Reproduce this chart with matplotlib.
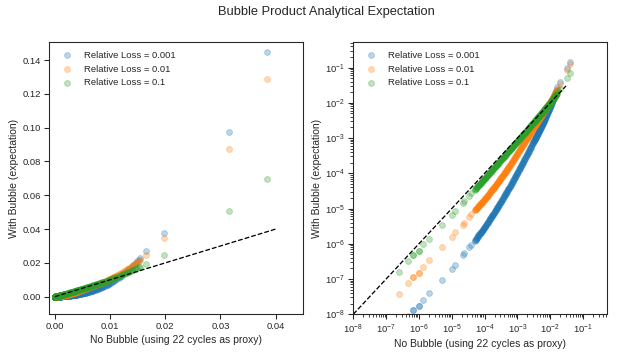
import numpy as np
import matplotlib
matplotlib.use("Agg")
import matplotlib.pyplot as plt
from matplotlib.ticker import LogLocator, NullFormatter, LogFormatterSciNotation

# ---------------- data ----------------
no_bubble = [
    2.40e-7, 4.79e-7, 6.76e-7, 6.76e-7, 9.77e-7, 9.77e-7, 1.35e-6, 2.09e-6, 4.90e-6,
    1.00e-5, 1.29e-5, 2.14e-5, 2.40e-5, 3.31e-5, 3.98e-5,
    5.01e-5, 5.31e-5, 5.62e-5, 5.96e-5, 6.31e-5, 6.69e-5, 7.08e-5, 7.51e-5, 7.94e-5,
    8.42e-5, 8.91e-5, 9.44e-5, 1.00e-4, 1.06e-4, 1.12e-4, 1.19e-4, 1.26e-4, 1.33e-4,
    1.41e-4, 1.50e-4, 1.58e-4, 1.68e-4, 1.78e-4, 1.89e-4, 2.00e-4, 2.12e-4, 2.24e-4,
    2.37e-4, 2.51e-4, 2.66e-4, 2.82e-4, 2.99e-4, 3.16e-4, 3.35e-4, 3.55e-4, 3.76e-4,
    3.98e-4, 4.22e-4, 4.47e-4, 4.74e-4, 5.01e-4, 5.31e-4, 5.62e-4, 5.96e-4, 6.31e-4,
    6.69e-4, 7.08e-4, 7.51e-4, 7.94e-4, 8.42e-4, 8.91e-4, 9.44e-4, 1.00e-3, 1.06e-3,
    1.12e-3, 1.19e-3, 1.26e-3, 1.33e-3, 1.41e-3, 1.50e-3, 1.58e-3, 1.68e-3, 1.78e-3,
    1.89e-3, 2.00e-3, 2.12e-3, 2.24e-3, 2.37e-3, 2.51e-3, 2.66e-3, 2.82e-3, 2.99e-3,
    3.16e-3, 3.27e-3, 3.39e-3, 3.51e-3, 3.63e-3, 3.76e-3, 3.89e-3, 4.03e-3, 4.17e-3,
    4.32e-3, 4.47e-3, 4.63e-3, 4.79e-3, 4.96e-3, 5.13e-3, 5.31e-3, 5.50e-3, 5.69e-3,
    5.89e-3, 6.10e-3, 6.31e-3, 6.53e-3, 6.76e-3, 7.00e-3, 7.24e-3, 7.50e-3, 7.76e-3,
    8.04e-3, 8.32e-3, 8.61e-3, 8.91e-3, 9.23e-3, 9.55e-3, 9.89e-3, 1.023e-2, 1.06e-2,
    1.096e-2, 1.135e-2, 1.175e-2, 1.217e-2, 1.259e-2, 1.304e-2, 1.349e-2, 1.397e-2,
    1.445e-2, 1.497e-2, 1.549e-2,
    0.0165, 0.0197, 0.0315, 0.0384,
    5.16e-5, 5.47e-5, 5.79e-5, 6.14e-5, 6.50e-5, 6.89e-5, 7.30e-5, 7.73e-5, 8.18e-5,
    8.67e-5, 9.18e-5, 9.72e-5, 1.03e-4, 1.09e-4, 1.155e-4, 1.225e-4, 1.295e-4, 1.37e-4,
    1.455e-4, 1.54e-4, 1.63e-4, 1.73e-4, 1.835e-4, 1.945e-4, 2.06e-4, 2.18e-4, 2.305e-4,
    2.44e-4, 2.585e-4, 2.74e-4, 2.905e-4, 3.075e-4, 3.255e-4, 3.45e-4, 3.655e-4, 3.87e-4,
    4.10e-4, 4.345e-4, 4.605e-4, 4.875e-4, 5.16e-4, 5.465e-4, 5.79e-4, 6.135e-4, 6.50e-4,
    6.885e-4, 7.295e-4, 7.725e-4, 8.18e-4, 8.665e-4, 9.175e-4, 9.72e-4,
    1.03e-3, 1.09e-3, 1.155e-3, 1.225e-3, 1.295e-3, 1.37e-3, 1.455e-3, 1.54e-3, 1.63e-3,
    1.73e-3, 1.835e-3, 1.945e-3, 2.06e-3, 2.18e-3, 2.305e-3, 2.44e-3, 2.585e-3, 2.74e-3,
    2.905e-3, 3.075e-3, 3.215e-3, 3.33e-3, 3.45e-3, 3.57e-3, 3.695e-3, 3.825e-3, 3.96e-3,
    4.10e-3, 4.245e-3, 4.395e-3, 4.55e-3, 4.71e-3, 4.875e-3, 5.045e-3, 5.22e-3, 5.405e-3,
    5.595e-3, 5.79e-3, 5.995e-3, 6.205e-3, 6.42e-3, 6.645e-3, 6.88e-3, 7.12e-3, 7.37e-3,
    7.63e-3, 7.90e-3, 8.18e-3, 8.465e-3, 8.76e-3, 9.07e-3, 9.39e-3, 9.72e-3, 1.006e-2,
    1.0415e-2, 1.078e-2, 1.1155e-2, 1.155e-2, 1.196e-2, 1.238e-2, 1.2815e-2, 1.3265e-2,
    1.373e-2, 1.421e-2, 1.471e-2, 1.523e-2,
]

loss_0001 = [
    4.57e-9, 9.12e-9, 1.32e-8, 1.32e-8, 1.74e-8, 1.74e-8, 2.57e-8, 3.98e-8, 9.55e-8,
    1.91e-7, 2.51e-7, 4.79e-7, 5.37e-7, 7.94e-7, 9.33e-7,
    1.23e-6, 1.32e-6, 1.41e-6, 1.54e-6, 1.66e-6, 1.79e-6, 1.91e-6, 2.05e-6, 2.19e-6,
    2.37e-6, 2.54e-6, 2.75e-6, 2.95e-6, 3.21e-6, 3.47e-6, 3.77e-6, 4.07e-6, 4.49e-6,
    4.90e-6, 5.33e-6, 5.75e-6, 6.26e-6, 6.76e-6, 7.35e-6, 7.94e-6, 8.75e-6, 9.55e-6,
    1.04e-5, 1.12e-5, 1.24e-5, 1.35e-5, 1.47e-5, 1.58e-5, 1.75e-5, 1.91e-5, 2.10e-5,
    2.29e-5, 2.52e-5, 2.75e-5, 3.03e-5, 3.31e-5, 3.63e-5, 3.94e-5, 4.37e-5, 4.79e-5,
    5.27e-5, 5.75e-5, 6.42e-5, 7.08e-5, 7.80e-5, 8.51e-5, 9.51e-5, 1.05e-4, 1.17e-4,
    1.29e-4, 1.43e-4, 1.57e-4, 1.74e-4, 1.91e-4, 2.13e-4, 2.34e-4, 2.61e-4, 2.88e-4,
    3.20e-4, 3.51e-4, 3.92e-4, 4.32e-4, 4.82e-4, 5.31e-4, 5.96e-4, 6.61e-4, 7.37e-4,
    8.13e-4, 8.73e-4, 9.33e-4, 9.97e-4, 1.06e-3, 1.13e-3, 1.20e-3, 1.29e-3, 1.38e-3,
    1.48e-3, 1.57e-3, 1.68e-3, 1.78e-3, 1.91e-3, 2.04e-3, 2.17e-3, 2.29e-3, 2.46e-3,
    2.63e-3, 2.81e-3, 2.99e-3, 3.19e-3, 3.39e-3, 3.67e-3, 3.94e-3, 4.26e-3, 4.57e-3,
    4.97e-3, 5.37e-3, 5.77e-3, 6.17e-3, 6.67e-3, 7.16e-3, 7.74e-3, 8.32e-3, 9.11e-3,
    9.89e-3, 1.08e-2, 1.175e-2, 1.28e-2, 1.38e-2, 1.50e-2, 1.62e-2, 1.78e-2,
    1.93e-2, 2.10e-2, 2.26e-2,
    0.0272, 0.0379, 0.0973, 0.1446,
    1.275e-6, 1.365e-6, 1.475e-6, 1.60e-6, 1.725e-6, 1.85e-6, 1.98e-6, 2.12e-6, 2.28e-6,
    2.455e-6, 2.645e-6, 2.85e-6, 3.08e-6, 3.34e-6, 3.62e-6, 3.92e-6, 4.28e-6, 4.695e-6,
    5.115e-6, 5.54e-6, 6.005e-6, 6.51e-6, 7.055e-6, 7.645e-6, 8.345e-6, 9.15e-6, 9.975e-6,
    1.08e-5, 1.18e-5, 1.295e-5, 1.41e-5, 1.525e-5, 1.665e-5, 1.83e-5, 2.005e-5, 2.195e-5,
    2.405e-5, 2.635e-5, 2.89e-5, 3.17e-5, 3.47e-5, 3.785e-5, 4.155e-5, 4.58e-5, 5.03e-5,
    5.51e-5, 6.085e-5, 6.75e-5, 7.44e-5, 8.155e-5, 9.01e-5, 1.0005e-4,
    1.11e-4, 1.23e-4, 1.36e-4, 1.50e-4, 1.655e-4, 1.825e-4, 2.02e-4, 2.235e-4, 2.475e-4,
    2.745e-4, 3.04e-4, 3.355e-4, 3.715e-4, 4.12e-4, 4.57e-4, 5.065e-4, 5.635e-4, 6.285e-4,
    6.99e-4, 7.75e-4, 8.43e-4, 9.03e-4, 9.65e-4, 1.0285e-3, 1.095e-3, 1.165e-3, 1.245e-3,
    1.335e-3, 1.43e-3, 1.525e-3, 1.625e-3, 1.73e-3, 1.845e-3, 1.975e-3, 2.105e-3, 2.23e-3,
    2.375e-3, 2.545e-3, 2.72e-3, 2.90e-3, 3.09e-3, 3.29e-3, 3.53e-3, 3.805e-3, 4.10e-3,
    4.415e-3, 4.77e-3, 5.17e-3, 5.57e-3, 5.97e-3, 6.42e-3, 6.915e-3, 7.45e-3, 8.03e-3,
    8.715e-3, 9.50e-3, 1.0345e-2, 1.1275e-2, 1.2275e-2, 1.33e-2, 1.44e-2, 1.56e-2,
    1.70e-2, 1.855e-2, 2.015e-2, 2.18e-2,
]

loss_001 = [
    3.72e-8, 7.59e-8, 1.15e-7, 1.15e-7, 1.51e-7, 1.51e-7, 2.24e-7, 3.47e-7, 8.32e-7,
    1.58e-6, 2.09e-6, 3.47e-6, 3.89e-6, 5.89e-6, 6.92e-6,
    8.81e-6, 9.41e-6, 1.00e-5, 1.06e-5, 1.12e-5, 1.20e-5, 1.27e-5, 1.35e-5, 1.43e-5,
    1.53e-5, 1.62e-5, 1.72e-5, 1.82e-5, 1.96e-5, 2.09e-5, 2.25e-5, 2.40e-5, 2.58e-5,
    2.75e-5, 2.96e-5, 3.16e-5, 3.40e-5, 3.63e-5, 3.90e-5, 4.17e-5, 4.48e-5, 4.79e-5,
    5.15e-5, 5.50e-5, 5.94e-5, 6.38e-5, 6.90e-5, 7.41e-5, 8.01e-5, 8.61e-5, 9.31e-5,
    1.00e-4, 1.08e-4, 1.16e-4, 1.26e-4, 1.35e-4, 1.47e-4, 1.58e-4, 1.72e-4, 1.86e-4,
    2.03e-4, 2.19e-4, 2.38e-4, 2.57e-4, 2.81e-4, 3.05e-4, 3.34e-4, 3.63e-4, 3.98e-4,
    4.32e-4, 4.73e-4, 5.13e-4, 5.58e-4, 6.03e-4, 6.60e-4, 7.16e-4, 7.84e-4, 8.51e-4,
    9.26e-4, 1.00e-3, 1.10e-3, 1.19e-3, 1.30e-3, 1.41e-3, 1.55e-3, 1.68e-3, 1.84e-3,
    2.00e-3, 2.11e-3, 2.21e-3, 2.33e-3, 2.45e-3, 2.60e-3, 2.75e-3, 2.90e-3, 3.05e-3,
    3.22e-3, 3.39e-3, 3.58e-3, 3.76e-3, 3.97e-3, 4.17e-3, 4.40e-3, 4.62e-3, 4.85e-3,
    5.07e-3, 5.35e-3, 5.62e-3, 5.90e-3, 6.17e-3, 6.47e-3, 6.76e-3, 7.09e-3, 7.41e-3,
    7.77e-3, 8.13e-3, 8.52e-3, 8.91e-3, 9.34e-3, 9.77e-3, 1.03e-2, 1.08e-2, 1.14e-2,
    1.20e-2, 1.28e-2, 1.35e-2, 1.43e-2, 1.51e-2, 1.61e-2, 1.70e-2, 1.82e-2,
    1.93e-2, 2.06e-2, 2.19e-2,
    0.0247, 0.0346, 0.0872, 0.1286,
    9.11e-6, 9.71e-6, 1.03e-5, 1.09e-5, 1.16e-5, 1.235e-5, 1.31e-5, 1.39e-5, 1.48e-5,
    1.575e-5, 1.67e-5, 1.77e-5, 1.89e-5, 2.025e-5, 2.17e-5, 2.325e-5, 2.49e-5, 2.665e-5,
    2.855e-5, 3.06e-5, 3.28e-5, 3.515e-5, 3.765e-5, 4.035e-5, 4.325e-5, 4.635e-5, 4.97e-5,
    5.325e-5, 5.72e-5, 6.16e-5, 6.64e-5, 7.155e-5, 7.71e-5, 8.31e-5, 8.96e-5, 9.655e-5,
    1.04e-4, 1.12e-4, 1.21e-4, 1.305e-4, 1.41e-4, 1.525e-4, 1.65e-4, 1.79e-4, 1.945e-4,
    2.11e-4, 2.285e-4, 2.475e-4, 2.69e-4, 2.93e-4, 3.195e-4, 3.485e-4,
    3.805e-4, 4.15e-4, 4.525e-4, 4.93e-4, 5.355e-4, 5.805e-4, 6.315e-4, 6.88e-4, 7.50e-4,
    8.175e-4, 8.885e-4, 9.63e-4, 1.05e-3, 1.145e-3, 1.245e-3, 1.355e-3, 1.48e-3, 1.615e-3,
    1.76e-3, 1.92e-3, 2.055e-3, 2.16e-3, 2.27e-3, 2.39e-3, 2.525e-3, 2.675e-3, 2.825e-3,
    2.975e-3, 3.135e-3, 3.305e-3, 3.485e-3, 3.67e-3, 3.865e-3, 4.07e-3, 4.285e-3, 4.51e-3,
    4.735e-3, 4.96e-3, 5.21e-3, 5.485e-3, 5.76e-3, 6.035e-3, 6.32e-3, 6.615e-3, 6.925e-3,
    7.25e-3, 7.59e-3, 7.95e-3, 8.325e-3, 8.715e-3, 9.125e-3, 9.555e-3, 1.0035e-2, 1.055e-2,
    1.11e-2, 1.17e-2, 1.24e-2, 1.315e-2, 1.39e-2, 1.47e-2, 1.56e-2, 1.655e-2, 1.76e-2,
    1.875e-2, 1.995e-2, 2.125e-2,
]

loss_01 = [
    1.62e-7, 3.24e-7, 4.79e-7, 4.79e-7, 6.17e-7, 6.17e-7, 9.55e-7, 1.41e-6, 3.47e-6,
    6.76e-6, 8.32e-6, 1.41e-5, 1.62e-5, 2.24e-5, 2.69e-5,
    3.43e-5, 3.65e-5, 3.87e-5, 4.12e-5, 4.37e-5, 4.65e-5, 4.93e-5, 5.25e-5, 5.56e-5,
    5.92e-5, 6.28e-5, 6.68e-5, 7.08e-5, 7.54e-5, 8.00e-5, 8.52e-5, 9.04e-5, 9.62e-5,
    1.02e-4, 1.09e-4, 1.15e-4, 1.23e-4, 1.30e-4, 1.39e-4, 1.47e-4, 1.57e-4, 1.66e-4,
    1.77e-4, 1.88e-4, 2.00e-4, 2.12e-4, 2.26e-4, 2.40e-4, 2.56e-4, 2.71e-4, 2.89e-4,
    3.06e-4, 3.26e-4, 3.46e-4, 3.69e-4, 3.91e-4, 4.17e-4, 4.42e-4, 4.71e-4, 4.99e-4,
    5.32e-4, 5.64e-4, 6.01e-4, 6.37e-4, 6.78e-4, 7.19e-4, 7.66e-4, 8.13e-4, 8.67e-4,
    9.20e-4, 9.80e-4, 1.04e-3, 1.11e-3, 1.18e-3, 1.26e-3, 1.34e-3, 1.43e-3, 1.51e-3,
    1.61e-3, 1.71e-3, 1.83e-3, 1.94e-3, 2.07e-3, 2.20e-3, 2.35e-3, 2.49e-3, 2.66e-3,
    2.82e-3, 2.93e-3, 3.04e-3, 3.16e-3, 3.28e-3, 3.41e-3, 3.54e-3, 3.68e-3, 3.82e-3,
    3.97e-3, 4.12e-3, 4.29e-3, 4.45e-3, 4.63e-3, 4.80e-3, 4.99e-3, 5.18e-3, 5.38e-3,
    5.58e-3, 5.81e-3, 6.03e-3, 6.27e-3, 6.50e-3, 6.76e-3, 7.01e-3, 7.29e-3, 7.57e-3,
    7.87e-3, 8.17e-3, 8.49e-3, 8.81e-3, 9.16e-3, 9.51e-3, 9.91e-3, 1.03e-2, 1.08e-2,
    1.13e-2, 1.18e-2, 1.23e-2, 1.29e-2, 1.35e-2, 1.42e-2, 1.48e-2, 1.55e-2,
    1.62e-2, 1.70e-2, 1.78e-2,
    0.0192, 0.0245, 0.0505, 0.0695,
    3.54e-5, 3.76e-5, 3.995e-5, 4.245e-5, 4.51e-5, 4.79e-5, 5.09e-5, 5.405e-5, 5.74e-5,
    6.10e-5, 6.48e-5, 6.88e-5, 7.31e-5, 7.77e-5, 8.26e-5, 8.78e-5, 9.33e-5, 9.91e-5,
    1.055e-4, 1.12e-4, 1.19e-4, 1.265e-4, 1.345e-4, 1.43e-4, 1.52e-4, 1.615e-4, 1.715e-4,
    1.825e-4, 1.94e-4, 2.06e-4, 2.19e-4, 2.33e-4, 2.48e-4, 2.635e-4, 2.80e-4, 2.975e-4,
    3.16e-4, 3.36e-4, 3.575e-4, 3.80e-4, 4.04e-4, 4.295e-4, 4.565e-4, 4.85e-4, 5.155e-4,
    5.48e-4, 5.825e-4, 6.19e-4, 6.575e-4, 6.985e-4, 7.425e-4, 7.895e-4,
    8.40e-4, 8.935e-4, 9.50e-4, 1.01e-3, 1.075e-3, 1.145e-3, 1.22e-3, 1.30e-3, 1.385e-3,
    1.47e-3, 1.56e-3, 1.66e-3, 1.77e-3, 1.885e-3, 2.005e-3, 2.135e-3, 2.275e-3, 2.42e-3,
    2.575e-3, 2.74e-3, 2.875e-3, 2.985e-3, 3.10e-3, 3.22e-3, 3.345e-3, 3.475e-3, 3.61e-3,
    3.75e-3, 3.895e-3, 4.045e-3, 4.205e-3, 4.37e-3, 4.54e-3, 4.715e-3, 4.895e-3, 5.085e-3,
    5.28e-3, 5.48e-3, 5.695e-3, 5.92e-3, 6.15e-3, 6.385e-3, 6.63e-3, 6.885e-3, 7.15e-3,
    7.43e-3, 7.72e-3, 8.02e-3, 8.33e-3, 8.65e-3, 8.985e-3, 9.335e-3, 9.71e-3, 1.01e-2,
    1.055e-2, 1.105e-2, 1.155e-2, 1.205e-2, 1.26e-2, 1.32e-2, 1.385e-2, 1.45e-2, 1.515e-2,
    1.585e-2, 1.66e-2, 1.74e-2,
]

series_labels = ["Relative Loss = 0.001", "Relative Loss = 0.01", "Relative Loss = 0.1"]
series_values = [loss_0001, loss_001, loss_01]
series_colors = ["#1f77b4", "#ff7f0e", "#2ca02c"]

ref_lin = [0.0, 0.04]
ref_log = [1e-8, 0.03]

title = "Bubble Product Analytical Expectation"
xlabel = "No Bubble (using 22 cycles as proxy)"
ylabel = "With Bubble (expectation)"

for v in series_values:
    if len(v) != len(no_bubble):
        raise SystemExit("length mismatch: %d vs %d" % (len(v), len(no_bubble)))

# ---------------- style ----------------
k = 0.62
dark = "#262626"
plt.rcParams.update({
    "font.family": ["Liberation Sans", "DejaVu Sans"],
    "font.size": 12 * k,
    "axes.labelsize": 12 * k,
    "xtick.labelsize": 11 * k,
    "ytick.labelsize": 11 * k,
    "legend.fontsize": 11 * k,
    "axes.edgecolor": dark,
    "axes.labelcolor": dark,
    "axes.linewidth": 1.25 * k,
    "xtick.color": dark,
    "ytick.color": dark,
    "text.color": dark,
    "xtick.direction": "out",
    "ytick.direction": "out",
    "xtick.major.size": 6 * k,
    "ytick.major.size": 6 * k,
    "xtick.minor.size": 4 * k,
    "ytick.minor.size": 4 * k,
    "xtick.major.width": 1.25 * k,
    "ytick.major.width": 1.25 * k,
    "xtick.minor.width": 1.0 * k,
    "ytick.minor.width": 1.0 * k,
    "xtick.major.pad": 3.5 * k,
    "ytick.major.pad": 3.5 * k,
    "axes.labelpad": 4.0 * k,
})

fig = plt.figure(figsize=(6.2, 3.6), dpi=100)
ax1 = fig.add_axes([0.0795, 0.127, 0.4097, 0.7556])
ax2 = fig.add_axes([0.5698, 0.127, 0.4087, 0.7556])

x = np.array(no_bubble)
for ax in (ax1, ax2):
    for vals, lab, col in zip(series_values, series_labels, series_colors):
        ax.scatter(x, np.array(vals), s=18, alpha=0.3, color=col,
                   linewidths=1.0 * k, edgecolors="face", label=lab)
    ax.set_xlabel(xlabel)
    ax.set_ylabel(ylabel)
    ax.legend(loc="upper left", frameon=False)

ax1.plot(ref_lin, ref_lin, "k--", lw=1.5 * k)
ax1.set_xlim(-0.001, 0.045)
ax1.set_ylim(-0.0104, 0.1505)
ax1.set_xticks([0.0, 0.01, 0.02, 0.03, 0.04])
ax1.set_yticks([0.0, 0.02, 0.04, 0.06, 0.08, 0.10, 0.12, 0.14])
ax1.set_xticklabels(["0.00", "0.01", "0.02", "0.03", "0.04"])
ax1.set_yticklabels(["0.00", "0.02", "0.04", "0.06", "0.08", "0.10", "0.12", "0.14"])

ax2.plot(ref_log, ref_log, "k--", lw=1.5 * k)
ax2.set_xscale("log")
ax2.set_yscale("log")
ax2.set_xlim(1e-8, 0.52)
ax2.set_ylim(1e-8, 0.52)
for axis in (ax2.xaxis, ax2.yaxis):
    axis.set_major_locator(LogLocator(base=10, numticks=30))
    axis.set_minor_locator(LogLocator(base=10, subs=np.arange(2, 10), numticks=30))
    axis.set_major_formatter(LogFormatterSciNotation())
    axis.set_minor_formatter(NullFormatter())

fig.text(0.526, 0.967, title, ha="center", va="center", fontsize=15 * k)

fig.savefig("out.png", dpi=100)
